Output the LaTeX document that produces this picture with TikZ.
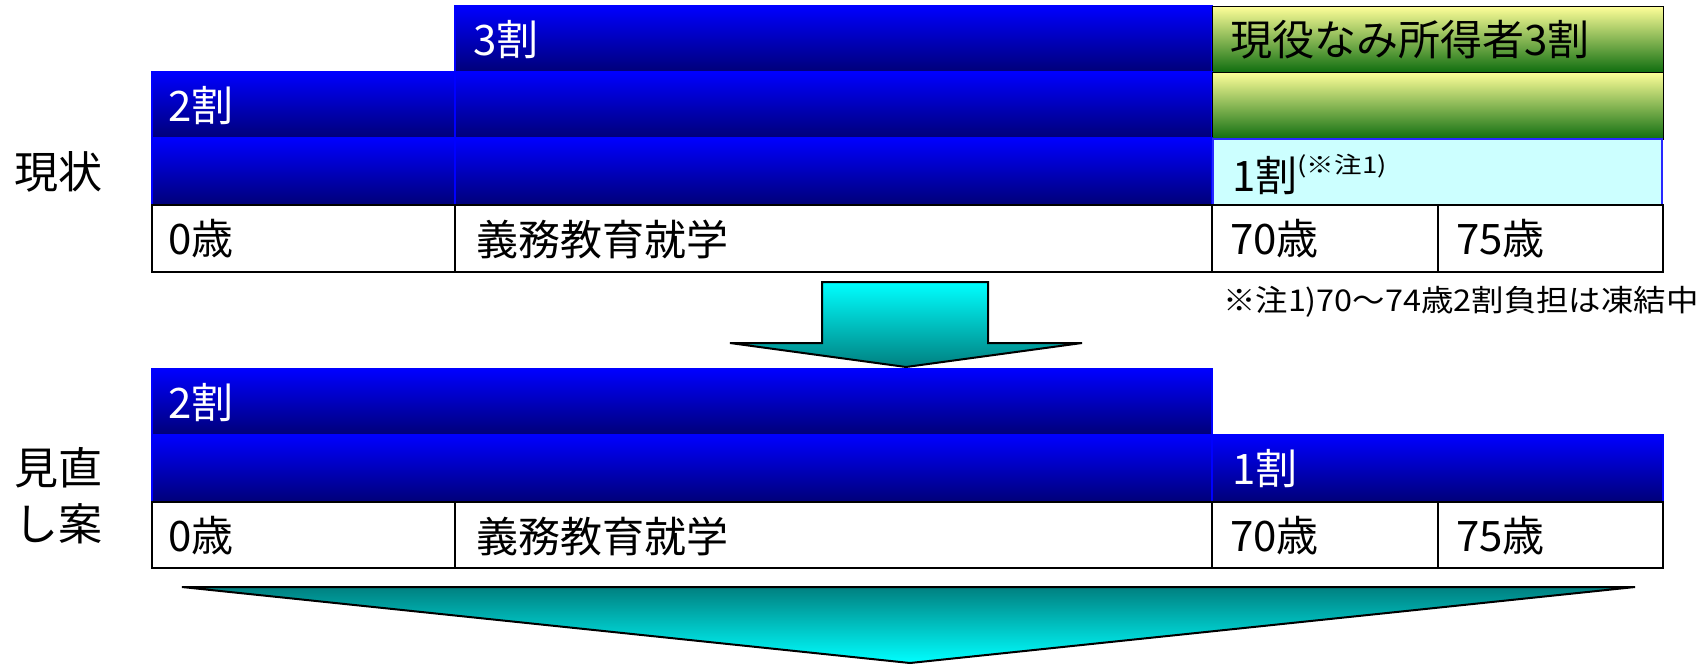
\documentclass[tikz,border=0pt]{standalone}
\usepackage{fontspec}
\setmainfont{Noto Sans CJK JP}
\definecolor{cellblue}{RGB}{0,0,255}
\definecolor{cellnavy}{RGB}{0,0,120}
\definecolor{paleyellow}{RGB}{255,255,153}
\definecolor{midyellow}{RGB}{200,212,112}
\definecolor{darkgreen}{RGB}{16,110,16}
\definecolor{lightcyan}{RGB}{204,255,255}
\definecolor{cyanborder}{RGB}{40,40,255}
\definecolor{arrcyan}{RGB}{0,255,255}
\definecolor{arrteal}{RGB}{0,128,128}
\begin{document}
\begin{tikzpicture}[x=1pt,y=-1pt,
  bluecell/.style={draw=cellblue,line width=1.2pt,top color=cellblue,bottom color=cellnavy},
  greencell/.style={top color=paleyellow,middle color=midyellow,bottom color=darkgreen},
  cyancell/.style={draw=cyanborder,line width=2pt,fill=lightcyan},
  tabcell/.style={draw=black,line width=2.5pt,fill=white},
  wtxt/.style={text=white,anchor=west,inner sep=0pt,font=\fontsize{42}{44}\selectfont},
  btxt/.style={text=black,anchor=west,inner sep=0pt,font=\fontsize{42}{44}\selectfont},
  lbl/.style={text=black,anchor=west,inner sep=0pt,align=left,font=\fontsize{44}{56}\selectfont},
  note/.style={text=black,anchor=west,inner sep=0pt,font=\fontsize{30}{32}\selectfont},
  arrowshape/.style={draw=black,line width=2pt,line join=miter}
]
\useasboundingbox (0,0) rectangle (1707,667);
% ---------- current (top) ----------
\draw[bluecell] (455,6) rectangle (1212,72);
\draw[greencell] (1212,6) rectangle (1663,72);
\draw[bluecell] (152,72) rectangle (455,138);
\draw[bluecell] (455,72) rectangle (1212,138);
\draw[greencell] (1212,72) rectangle (1663,139);
\draw[bluecell] (152,138) rectangle (455,205);
\draw[bluecell] (455,138) rectangle (1212,205);
\draw[cyancell] (1213,139) rectangle (1662,205);
\draw[tabcell] (152,205) rectangle (455,272);
\draw[tabcell] (455,205) rectangle (1212,272);
\draw[tabcell] (1212,205) rectangle (1438,272);
\draw[tabcell] (1438,205) rectangle (1663,272);

\node[wtxt] (t3wari) at (473,40) {3割};
\node[btxt] (tgeneki) at (1230,40) {現役なみ所得者3割};
\node[wtxt] (t2wari) at (168,106) {2割};
\node[btxt] (t1wari) at (1232,174) {1割\raisebox{18pt}{\scalebox{1.2}[1]{\fontsize{23}{25}\selectfont(※注1)}}};
\node[btxt] (t0sai) at (168,239) {0歳};
\node[btxt] (tgimu) at (476,239) {義務教育就学};
\node[btxt] (t70) at (1230,239) {70歳};
\node[btxt] (t75) at (1456,239) {75歳};
\node[note] (tnote) at (1223,302) {\scalebox{1.08}[1]{※注1)70～74歳2割負担は凍結中}};
\node[lbl] (lgenjo) at (14,172) {現状};

% ---------- arrow ----------
\draw[arrowshape,top color=arrcyan,bottom color=arrteal]
  (822,282) -- (988,282) -- (988,343) -- (1082,343) -- (906,367)
  -- (730,343) -- (822,343) -- cycle;

% ---------- proposal (bottom) ----------
\draw[bluecell] (152,369) rectangle (1212,435);
\draw[bluecell] (152,435) rectangle (1212,502);
\draw[bluecell] (1212,435) rectangle (1663,502);
\draw[tabcell] (152,502) rectangle (455,568);
\draw[tabcell] (455,502) rectangle (1212,568);
\draw[tabcell] (1212,502) rectangle (1438,568);
\draw[tabcell] (1438,502) rectangle (1663,568);

\node[wtxt] (b2wari) at (168,403) {2割};
\node[wtxt] (b1wari) at (1232,469) {1割};
\node[btxt] (b0sai) at (168,536) {0歳};
\node[btxt] (bgimu) at (476,536) {義務教育就学};
\node[btxt] (b70) at (1230,536) {70歳};
\node[btxt] (b75) at (1456,536) {75歳};
\node[lbl] (lminaoshi) at (14,496) {見直\\し案};

% ---------- big arrow ----------
\draw[arrowshape,top color=arrteal,bottom color=arrcyan]
  (182,587) -- (1635,587) -- (910,663) -- cycle;
\end{tikzpicture}
\end{document}
